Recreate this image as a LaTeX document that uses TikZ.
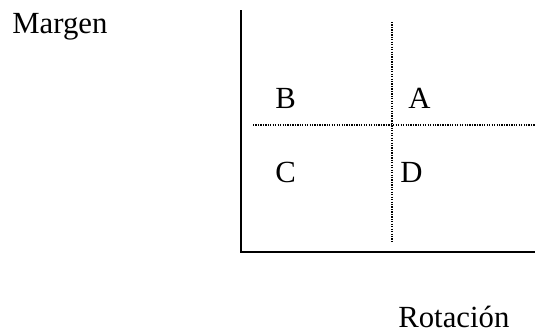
\documentclass[tikz,border=0pt]{standalone}
\usepackage{fontspec}
\setmainfont{Liberation Serif}
\usetikzlibrary{positioning}

\begin{document}
\begin{tikzpicture}[x=0.02cm,y=-0.02cm,
  every node/.style={font=\fontsize{17.5}{20}\selectfont,inner sep=0pt,anchor=base west},
  axis/.style={line width=1.1pt},
  grid/.style={dash pattern=on 0.7pt off 0.7pt,line width=0.7pt}
]
\useasboundingbox (0,0) rectangle (535,332);
\coordinate (o) at (241,252);
\coordinate (ytop) at (241,10);
\coordinate (xend) at (535,252);
\coordinate (vtop) at (392,22);
\coordinate (vbot) at (392,243);
\coordinate (hl) at (253,125);
\coordinate (hr) at (535,125);
\draw[axis] (ytop) -- (o) -- (xend);
\draw[grid] (vtop) -- (vbot);
\draw[grid] (hl) -- (hr);
\node (margen) at (12,33) {Margen};
\node (qb) at (275,108) {B};
\node (qa) at (408,108) {A};
\node (qc) at (275,182) {C};
\node (qd) at (400,182) {D};
\node (rot) at (398,327) {Rotación};
\end{tikzpicture}
\end{document}
